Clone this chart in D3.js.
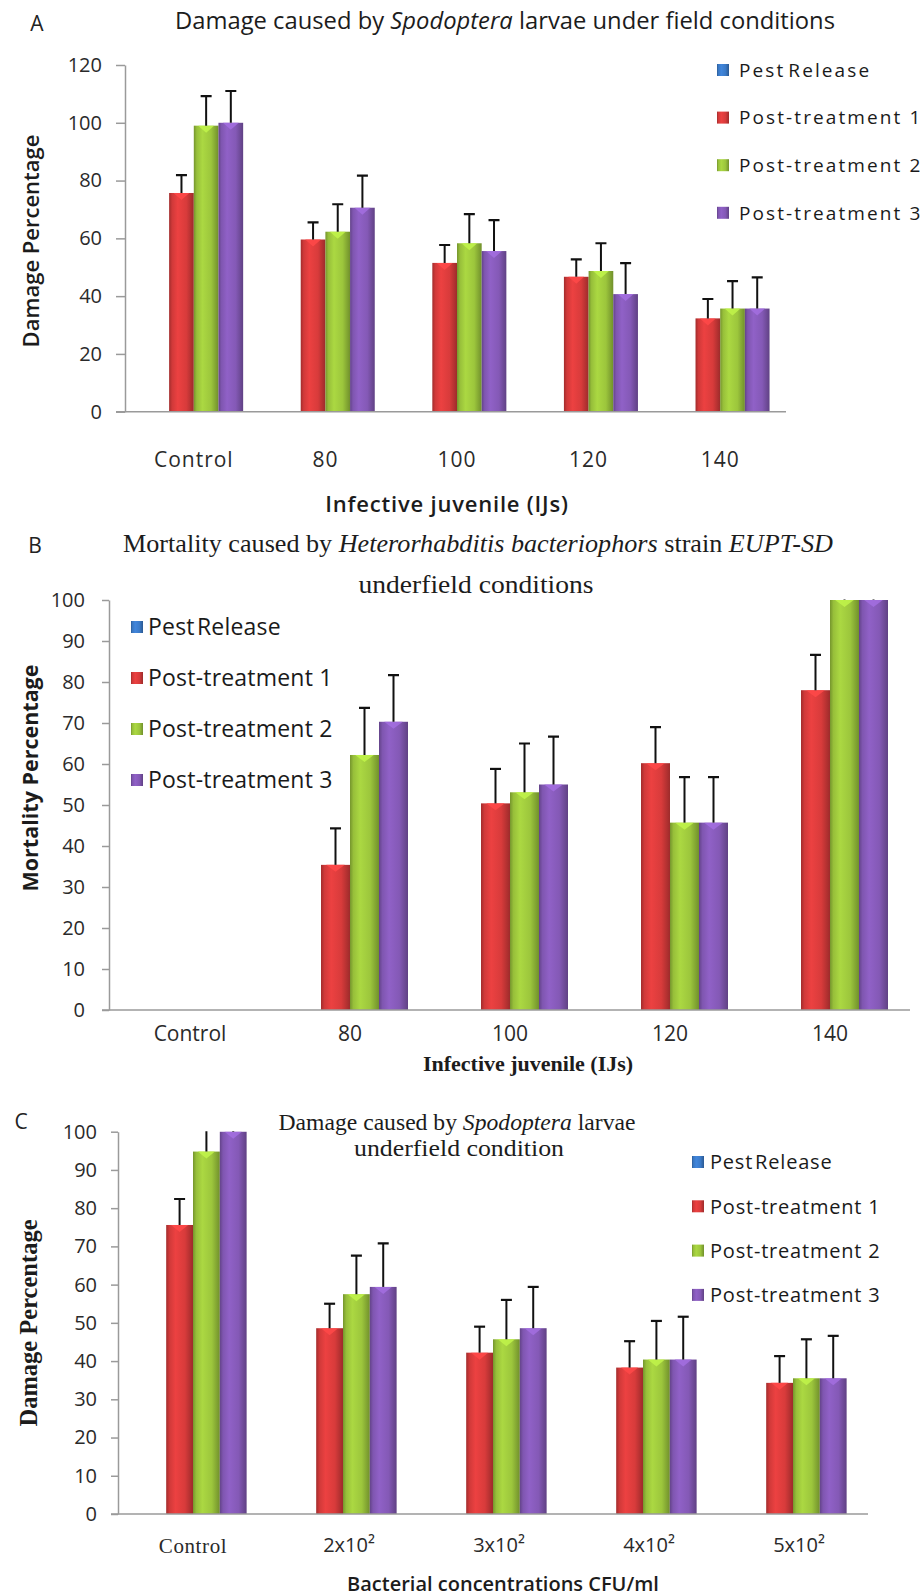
<!DOCTYPE html>
<html>
<head>
<meta charset="utf-8">
<script src="https://cdn.jsdelivr.net/npm/d3@7"></script>
<style>
  body { margin: 0; background: #ffffff; }
  svg { display: block; }
</style>
</head>
<body>
<svg id="fig" width="924" height="1596"></svg>
<script>
// ---------- data ----------
const seriesNames = ["Pest Release", "Post-treatment 1", "Post-treatment 2", "Post-treatment 3"];
const seriesColors = ["#3b7bc9", "#d83b3b", "#9cc63c", "#8459b6"];

// A: damage by Spodoptera larvae vs. infective juveniles
const categoriesA = ["Control", "80", "100", "120", "140"];
const pestReleaseA = [null, null, null, null, null];
const pt1A = [75.7, 59.6, 51.5, 46.7, 32.3];
const pt2A = [99.0, 62.3, 58.3, 48.7, 35.7];
const pt3A = [100.0, 70.6, 55.6, 40.7, 35.7];
const pt1ErrA = [6.2, 5.9, 6.2, 6.0, 6.7];
const pt2ErrA = [10.2, 9.5, 10.1, 9.6, 9.5];
const pt3ErrA = [11.0, 11.1, 10.7, 10.7, 10.8];
const ticksA = [0, 20, 40, 60, 80, 100, 120];

// B: mortality by H. bacteriophora EUPT-SD vs. infective juveniles
const categoriesB = ["Control", "80", "100", "120", "140"];
const pestReleaseB = [null, null, null, null, null];
const pt1B = [0, 35.4, 50.4, 60.2, 78.0];
const pt2B = [0, 62.2, 53.1, 45.7, 100.0];
const pt3B = [0, 70.3, 55.0, 45.7, 100.0];
const pt1ErrB = [0, 8.9, 8.4, 8.8, 8.6];
const pt2ErrB = [0, 11.5, 11.9, 11.1, 11.0];
const pt3ErrB = [0, 11.4, 11.7, 11.1, 11.0];
const ticksB = [0, 10, 20, 30, 40, 50, 60, 70, 80, 90, 100];

// C: damage by Spodoptera larvae vs. bacterial concentration
const categoriesC = ["Control", "2x10²", "3x10²", "4x10²", "5x10²"];
const pestReleaseC = [null, null, null, null, null];
const pt1C = [75.6, 48.6, 42.2, 38.3, 34.3];
const pt2C = [94.8, 57.5, 45.7, 40.4, 35.5];
const pt3C = [100.0, 59.4, 48.6, 40.4, 35.5];
const pt1ErrC = [6.8, 6.4, 6.8, 6.9, 7.0];
const pt2ErrC = [10.0, 10.1, 10.3, 10.1, 10.2];
const pt3ErrC = [10.0, 11.4, 10.8, 11.2, 11.1];
const ticksC = [0, 10, 20, 30, 40, 50, 60, 70, 80, 90, 100];

// ---------- drawing ----------
const SANS = "'Open Sans', 'Liberation Sans', sans-serif";
const SERIF = "'Liberation Serif', 'DejaVu Serif', serif";
const INK = "#1c1c1c";
const AXIS = "#9a9a9a";

const svg = d3.select("#fig");
const defs = svg.append("defs");

// shaded fills for the bars (darker edges, highlight left of centre)
seriesColors.forEach((c, i) => {
  const base = d3.color(c);
  const g = defs.append("linearGradient").attr("id", "grad" + i)
    .attr("x1", "0%").attr("x2", "100%").attr("y1", "0%").attr("y2", "0%");
  g.append("stop").attr("offset", "0%").attr("stop-color", base.darker(0.8));
  g.append("stop").attr("offset", "12%").attr("stop-color", base.darker(0.1));
  g.append("stop").attr("offset", "35%").attr("stop-color", base.brighter(0.25));
  g.append("stop").attr("offset", "70%").attr("stop-color", base);
  g.append("stop").attr("offset", "100%").attr("stop-color", base.darker(0.9));
});

function addText(g, x, y, parts, opts) {
  const t = g.append("text").attr("x", x).attr("y", y)
    .attr("text-anchor", opts.anchor || "middle")
    .attr("font-family", opts.family).attr("font-size", opts.size)
    .attr("font-weight", opts.weight || 400).attr("fill", opts.fill || INK);
  if (opts.spacing != null) t.attr("letter-spacing", opts.spacing);
  if (opts.length) t.attr("textLength", opts.length).attr("lengthAdjust", "spacingAndGlyphs");
  if (opts.rotate) t.attr("transform", `rotate(${opts.rotate},${x},${y})`);
  parts.forEach(([s, it]) => t.append("tspan").attr("font-style", it ? "italic" : "normal").text(s));
  return t;
}

function drawPanel(p) {
  const g = svg.append("g");
  const y = d3.scaleLinear().domain([0, p.yMax]).range([p.y0, p.y1]);
  const x = d3.scaleBand().domain(p.categories).range([p.xLeft, p.xRight])
    .paddingInner(p.gap).paddingOuter(p.gap / 2);
  const xs = d3.scaleBand().domain(seriesNames).range([0, x.bandwidth()]);

  const clipId = "clip" + p.id;
  defs.append("clipPath").attr("id", clipId).append("rect")
    .attr("x", p.axisX).attr("y", p.y1 - 0.5)
    .attr("width", p.xRight - p.axisX + 2).attr("height", p.y0 - p.y1 + 0.5);

  // y axis
  const ya = g.append("g").attr("transform", `translate(${p.axisX},0)`)
    .call(d3.axisLeft(y).tickValues(p.ticks).tickSize(p.tickLen).tickPadding(p.tickPad).tickSizeOuter(0));
  ya.select(".domain").attr("stroke", AXIS).attr("stroke-width", 1.5);
  ya.selectAll(".tick line").attr("stroke", AXIS).attr("stroke-width", 1.5);
  ya.selectAll(".tick text").attr("font-family", SANS).attr("font-size", p.yTickSize).attr("fill", "#2a2a2a");

  // bars, bevel notches and error bars
  const plot = g.append("g").attr("clip-path", `url(#${clipId})`);
  p.series.forEach((s, k) => {
    p.categories.forEach((c, i) => {
      const v = s.values[i];
      if (v == null || v <= 0) return;
      const bx = x(c) + xs(seriesNames[k]);
      const bw = xs.bandwidth();
      plot.append("rect").attr("x", bx).attr("y", y(v)).attr("width", bw).attr("height", y(0) - y(v))
        .attr("fill", `url(#grad${k})`);
      const lite = d3.color(seriesColors[k]).brighter(0.6);
      plot.append("path")
        .attr("d", `M${bx + bw * 0.18},${y(v)} L${bx + bw * 0.82},${y(v)} L${bx + bw / 2},${y(v) + 7} Z`)
        .attr("fill", lite).attr("opacity", 0.85);
      const e = s.err ? s.err[i] : 0;
      if (e > 0) {
        const cx = bx + bw / 2;
        plot.append("line").attr("x1", cx).attr("x2", cx).attr("y1", y(v)).attr("y2", y(v + e))
          .attr("stroke", "#111").attr("stroke-width", 2);
        plot.append("line").attr("x1", cx - 5.5).attr("x2", cx + 5.5).attr("y1", y(v + e)).attr("y2", y(v + e))
          .attr("stroke", "#111").attr("stroke-width", 2.2);
      }
    });
  });

  // x axis
  const xa = g.append("g").attr("transform", `translate(0,${p.y0})`)
    .call(d3.axisBottom(x).tickSize(0).tickPadding(p.xTickPad).tickSizeOuter(0));
  xa.select(".domain").attr("stroke", AXIS).attr("stroke-width", 1.5)
    .attr("d", `M${p.axisX - p.tickLen},0H${p.xRight}`);
  xa.selectAll(".tick text").attr("font-family", SANS).attr("font-size", p.xTickSize)
    .attr("letter-spacing", p.xTickSpacing || 0).attr("fill", "#2a2a2a");
  if (p.firstTickSerif) {
    xa.selectAll(".tick text").filter((d, i) => i === 0)
      .attr("font-family", SERIF).attr("font-size", p.xTickSize + 1).attr("letter-spacing", 0.6);
    xa.selectAll(".tick text").filter((d, i) => i > 0).attr("dx", 6);
  }

  // legend
  seriesNames.forEach((n, k) => {
    const ly = p.legend.y + k * p.legend.step;
    g.append("rect").attr("x", p.legend.x).attr("y", ly - p.legend.box / 2)
      .attr("width", p.legend.box).attr("height", p.legend.box).attr("fill", `url(#grad${k})`);
    const t = addText(g, p.legend.x + p.legend.textDx, ly + p.legend.size * 0.36, [[n, false]],
      { anchor: "start", family: SANS, size: p.legend.size, spacing: p.legend.spacing, fill: "#1a1a1a" });
    if (k === 0) t.attr("word-spacing", -4);
  });

  // titles and axis titles
  p.titleLines.forEach(l => addText(g, l.x, l.y, l.parts, l.opts));
  addText(g, p.letter.x, p.letter.y, [[p.id, false]], { anchor: "middle", family: SANS, size: 21, fill: "#222" });
  addText(g, p.yTitle.x, p.yTitle.y, [[p.yTitle.text, false]], Object.assign({ rotate: -90 }, p.yTitle.opts));
  addText(g, p.xTitle.x, p.xTitle.y, [[p.xTitle.text, false]], p.xTitle.opts);
}

drawPanel({
  id: "A", categories: categoriesA,
  series: [{ values: pestReleaseA }, { values: pt1A, err: pt1ErrA }, { values: pt2A, err: pt2ErrA }, { values: pt3A, err: pt3ErrA }],
  yMax: 120, y0: 411.7, y1: 65, ticks: ticksA,
  axisX: 125, xLeft: 128, xRight: 786, gap: 0.25,
  tickLen: 9, tickPad: 14, yTickSize: 20, xTickSize: 21, xTickSpacing: 1, xTickPad: 40,
  legend: { x: 717, y: 70, step: 47.6, box: 12, textDx: 22, size: 19, spacing: 2.1 },
  titleLines: [{ x: 505, y: 29, parts: [["Damage caused by ", false], ["Spodoptera", true], [" larvae under field conditions", false]],
                 opts: { family: SANS, size: 23, length: 660 } }],
  letter: { x: 37, y: 31 },
  yTitle: { x: 39, y: 241, text: "Damage Percentage", opts: { family: SANS, size: 22, weight: 600 } },
  xTitle: { x: 447, y: 512, text: "Infective juvenile (IJs)", opts: { family: SANS, size: 22, weight: 600, spacing: 0.8 } }
});

drawPanel({
  id: "B", categories: categoriesB,
  series: [{ values: pestReleaseB }, { values: pt1B, err: pt1ErrB }, { values: pt2B, err: pt2ErrB }, { values: pt3B, err: pt3ErrB }],
  yMax: 100, y0: 1010, y1: 600, ticks: ticksB,
  axisX: 109, xLeft: 110, xRight: 910, gap: 0.275,
  tickLen: 7, tickPad: 17, yTickSize: 20, xTickSize: 21, xTickPad: 16,
  legend: { x: 131, y: 627, step: 51, box: 12, textDx: 17, size: 23, spacing: 0.2 },
  titleLines: [
    { x: 478, y: 552, parts: [["Mortality caused by ", false], ["Heterorhabditis bacteriophors", true], [" strain ", false], ["EUPT-SD", true]],
      opts: { family: SERIF, size: 26, length: 710 } },
    { x: 476, y: 593, parts: [["underfield conditions", false]], opts: { family: SERIF, size: 26, length: 235 } }
  ],
  letter: { x: 35, y: 553 },
  yTitle: { x: 38, y: 778, text: "Mortality Percentage", opts: { family: SANS, size: 21.5, weight: 700 } },
  xTitle: { x: 528, y: 1071, text: "Infective juvenile (IJs)", opts: { family: SERIF, size: 22, weight: 700 } }
});

drawPanel({
  id: "C", categories: categoriesC, firstTickSerif: true,
  series: [{ values: pestReleaseC }, { values: pt1C, err: pt1ErrC }, { values: pt2C, err: pt2ErrC }, { values: pt3C, err: pt3ErrC }],
  yMax: 100, y0: 1514, y1: 1131.7, ticks: ticksC,
  axisX: 118, xLeft: 118, xRight: 868, gap: 0.285,
  tickLen: 7, tickPad: 14, yTickSize: 20, xTickSize: 20, xTickPad: 24,
  legend: { x: 692, y: 1162, step: 44.3, box: 12, textDx: 18, size: 20, spacing: 0.8 },
  titleLines: [
    { x: 457, y: 1130, parts: [["Damage caused by ", false], ["Spodoptera", true], [" larvae", false]],
      opts: { family: SERIF, size: 23, length: 357 } },
    { x: 459, y: 1156, parts: [["underfield condition", false]], opts: { family: SERIF, size: 23, length: 210 } }
  ],
  letter: { x: 21, y: 1129 },
  yTitle: { x: 37, y: 1323, text: "Damage Percentage", opts: { family: SERIF, size: 24.5, weight: 700 } },
  xTitle: { x: 503, y: 1591, text: "Bacterial concentrations CFU/ml", opts: { family: SANS, size: 20, weight: 600 } }
});
</script>
</body>
</html>
